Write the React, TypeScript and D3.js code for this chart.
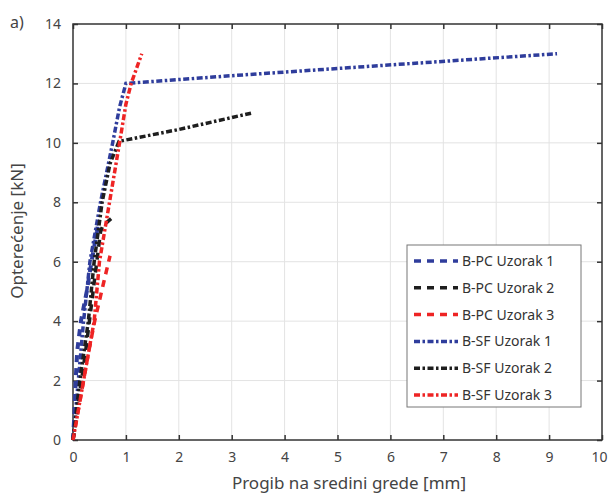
import React, { useEffect, useRef } from 'react';
import * as d3 from 'd3';

// deflection [mm] / load [kN]
const pc1X = [0, 0.03, 0.05, 0.08, 0.15, 0.26, 0.35, 0.45, 0.48];
const pc1Y = [0, 1, 2, 3, 4, 5, 6, 7, 7.35];
const pc2X = [0, 0.08, 0.16, 0.24, 0.31, 0.38, 0.45, 0.52, 0.56, 0.72];
const pc2Y = [0, 1, 2, 3, 4, 5, 6, 7, 7.2, 7.45];
const pc3X = [0, 0.1, 0.2, 0.3, 0.41, 0.58, 0.7];
const pc3Y = [0, 1, 2, 3, 4, 5.3, 6.2];
const sf1X = [0, 0.1, 0.2, 0.32, 0.52, 0.75, 0.88, 1.0, 3.0, 5.3, 7.15, 9.15];
const sf1Y = [0, 2, 4, 6, 8, 10, 11.2, 12.0, 12.26, 12.54, 12.76, 13.0];
const sf2X = [0, 0.13, 0.29, 0.4, 0.55, 0.7, 0.87, 2.0, 3.37];
const sf2Y = [0, 2, 4, 6, 8, 9.3, 10.05, 10.45, 11.0];
const sf3X = [0, 0.2, 0.4, 0.5, 0.69, 0.88, 1.0, 1.1, 1.3];
const sf3Y = [0, 2, 4, 6, 8, 10, 11.3, 12.0, 13.0];

const seriesNames = ['B-PC Uzorak 1', 'B-PC Uzorak 2', 'B-PC Uzorak 3', 'B-SF Uzorak 1', 'B-SF Uzorak 2', 'B-SF Uzorak 3'];
const xTicks = [0, 1, 2, 3, 4, 5, 6, 7, 8, 9, 10];
const yTicks = [0, 2, 4, 6, 8, 10, 12, 14];

const BLUE = '#2f3d9c';
const BLACK = '#1e1e1e';
const RED = '#ee2424';
const DASH = '7,6';
const DASHDOT = '6,2.5,2.5,2.5';

function App () {
  const ref = useRef(null);

  useEffect(() => {
    const svg = d3.select(ref.current);
    svg.selectAll('*').remove();

    const left = 73, right = 602, top = 24, bottom = 440;
    const x = d3.scaleLinear().domain([0, 10]).range([left, right]);
    const y = d3.scaleLinear().domain([0, 14]).range([bottom, top]);
    const font = "'Noto Sans', sans-serif";
    const textCol = '#444';

    // grid
    svg.append('g').selectAll('line').data(xTicks.slice(1, -1)).enter().append('line')
      .attr('x1', d => x(d)).attr('x2', d => x(d)).attr('y1', top).attr('y2', bottom)
      .attr('stroke', '#e3e3e3').attr('stroke-width', 1);
    svg.append('g').selectAll('line').data(yTicks.slice(1, -1)).enter().append('line')
      .attr('y1', d => y(d)).attr('y2', d => y(d)).attr('x1', left).attr('x2', right)
      .attr('stroke', '#e3e3e3').attr('stroke-width', 1);

    // box with inner ticks
    svg.append('rect').attr('x', left).attr('y', top).attr('width', right - left).attr('height', bottom - top)
      .attr('fill', 'none').attr('stroke', '#333').attr('stroke-width', 1.5);
    const xb = svg.append('g').attr('transform', 'translate(0,' + bottom + ')')
      .call(d3.axisBottom(x).tickValues(xTicks).tickSizeInner(-5).tickSizeOuter(0).tickPadding(12));
    const xt = svg.append('g').attr('transform', 'translate(0,' + top + ')')
      .call(d3.axisTop(x).tickValues(xTicks).tickSizeInner(-5).tickSizeOuter(0).tickFormat(() => ''));
    const yl = svg.append('g').attr('transform', 'translate(' + left + ',0)')
      .call(d3.axisLeft(y).tickValues(yTicks).tickSizeInner(-5).tickSizeOuter(0).tickPadding(12));
    const yr = svg.append('g').attr('transform', 'translate(' + right + ',0)')
      .call(d3.axisRight(y).tickValues(yTicks).tickSizeInner(-5).tickSizeOuter(0).tickFormat(() => ''));
    [xb, xt, yl, yr].forEach(g => {
      g.select('.domain').remove();
      g.selectAll('line').attr('stroke', '#333').attr('stroke-width', 1.5);
      g.selectAll('text').attr('font-family', font).attr('font-size', 14).attr('fill', textCol);
    });
    // keep the last x label inside the page
    xb.selectAll('text').filter(d => d === 10).attr('dx', -3);

    // curves
    const series = [
      { xs: pc1X, ys: pc1Y, color: BLUE, dash: DASH, w: 4 },
      { xs: pc2X, ys: pc2Y, color: BLACK, dash: DASH, w: 3.5 },
      { xs: pc3X, ys: pc3Y, color: RED, dash: DASH, w: 3.5 },
      { xs: sf1X, ys: sf1Y, color: BLUE, dash: DASHDOT, w: 3.5 },
      { xs: sf2X, ys: sf2Y, color: BLACK, dash: DASHDOT, w: 3.5 },
      { xs: sf3X, ys: sf3Y, color: RED, dash: DASHDOT, w: 3.5 }
    ];
    const line = d3.line().x(d => x(d[0])).y(d => y(d[1]));
    series.forEach(s => {
      svg.append('path')
        .datum(s.xs.map((v, i) => [v, s.ys[i]]))
        .attr('d', line)
        .attr('fill', 'none')
        .attr('stroke', s.color)
        .attr('stroke-width', s.w)
        .attr('stroke-dasharray', s.dash);
    });

    // legend
    const lg = svg.append('g');
    lg.append('rect').attr('x', 407).attr('y', 245).attr('width', 174).attr('height', 162)
      .attr('fill', 'white').attr('stroke', '#777').attr('stroke-width', 1);
    series.forEach((s, i) => {
      const ly = 261 + i * 26.8;
      lg.append('line').attr('x1', 414).attr('x2', 458).attr('y1', ly).attr('y2', ly)
        .attr('stroke', s.color).attr('stroke-width', 3.5).attr('stroke-dasharray', s.dash);
      lg.append('text').attr('x', 462).attr('y', ly).attr('dy', '0.35em')
        .attr('font-family', font).attr('font-size', 14).attr('fill', '#333')
        .text(seriesNames[i]);
    });

    // labels
    svg.append('text').attr('x', 349).attr('y', 489).attr('text-anchor', 'middle')
      .attr('font-family', font).attr('font-size', 17).attr('fill', textCol)
      .text('Progib na sredini grede [mm]');
    svg.append('text').attr('transform', 'translate(23,' + 231 + ') rotate(-90)').attr('text-anchor', 'middle')
      .attr('font-family', font).attr('font-size', 17).attr('fill', textCol)
      .text('Opterećenje [kN]');
    svg.append('text').attr('x', 10).attr('y', 28)
      .attr('font-family', font).attr('font-size', 16).attr('fill', textCol)
      .text('a)');
  }, []);

  return (
    <svg ref={ref} width={610} height={494}
         style={{ position: 'absolute', left: 0, top: 0, background: 'white' }} />
  );
}

export default App;
